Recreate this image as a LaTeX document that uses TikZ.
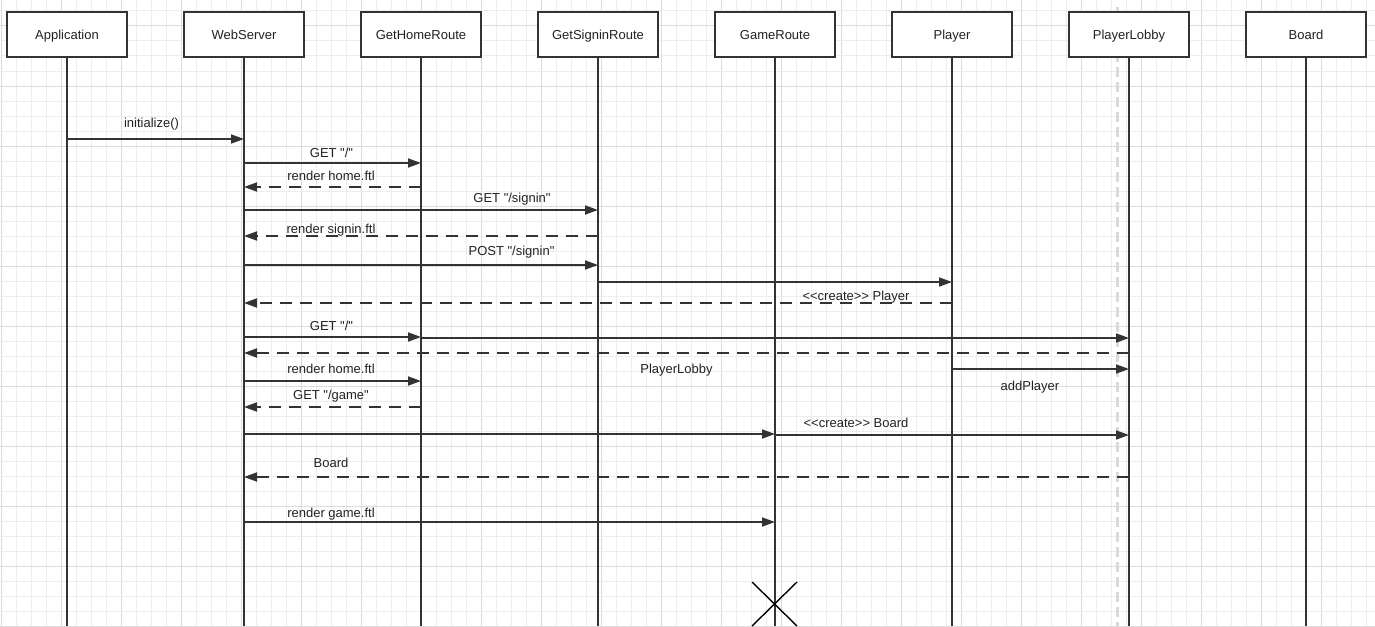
\documentclass[tikz,border=0pt]{standalone}
\usepackage{fontspec}
\setmainfont{Liberation Sans}[Ligatures=TeXOff]
\usetikzlibrary{arrows.meta}
\definecolor{ink}{HTML}{333333}
\definecolor{txt}{HTML}{222222}
\definecolor{gridminor}{HTML}{EDEDED}
\definecolor{gridmajor}{HTML}{DCDCDC}
\definecolor{guide}{HTML}{DADADA}
\tikzset{
 actor/.style={draw=ink, line width=2pt, fill=white, minimum width=120pt, minimum height=45pt, inner sep=0pt, text height=13.5pt, text depth=2.8pt, font=\fontsize{13}{15}\selectfont, text=txt},
 life/.style={draw=ink, line width=2pt},
 msg/.style={draw=ink, line width=1.8pt, -{Triangle[length=13pt,width=9pt]}},
 reply/.style={msg, dash pattern=on 12pt off 8pt},
 lbl/.style={font=\fontsize{13}{15}\selectfont, inner sep=0pt, text height=11.5pt, text depth=2.8pt, text=txt},
}
\begin{document}
\begin{tikzpicture}[x=1pt,y=-1pt]
\useasboundingbox (0,0) rectangle (1375,626);
% grid
\begin{scope}
\clip (0,0) rectangle (1375,626);
\fill[white] (0,0) rectangle (1375,626);
\foreach \i in {0,...,91}{
  \pgfmathtruncatemacro{\m}{mod(\i,4)}
  \ifnum\m=0 \draw[gridmajor, line width=1pt] (1.7+15*\i,0) -- (1.7+15*\i,626);
  \else \draw[gridminor, line width=1pt] (1.7+15*\i,0) -- (1.7+15*\i,626); \fi
}
\foreach \i in {0,...,41}{
  \pgfmathtruncatemacro{\m}{mod(\i,4)}
  \ifnum\m=1 \draw[gridmajor, line width=1pt] (0,11+15*\i) -- (1375,11+15*\i);
  \else \draw[gridminor, line width=1pt] (0,11+15*\i) -- (1375,11+15*\i); \fi
}
\end{scope}
% guide dashed line
\coordinate (gtop) at (1117,7);
\coordinate (gbot) at (1117,626);
\draw[guide, line width=3pt, dash pattern=on 10pt off 5pt] (gtop) -- (gbot);
% actors
\node[actor] (app) at (67,34.5) {Application};
\node[actor] (ws) at (244,34.5) {WebServer};
\node[actor] (hr) at (421,34.5) {GetHomeRoute};
\node[actor] (sr) at (598,34.5) {GetSigninRoute};
\node[actor] (gr) at (775,34.5) {GameRoute};
\node[actor] (pl) at (952,34.5) {Player};
\node[actor] (lob) at (1129,34.5) {PlayerLobby};
\node[actor] (bd) at (1306,34.5) {Board};
% lifelines
\foreach \n in {app,ws,hr,sr,gr,pl,lob,bd}{
  \draw[life] (\n.south) -- (\n.south |- 0,626);
}
% messages
\draw[msg] (app |- 0,139) -- (ws |- 0,139);
\node[lbl] (l1) at (151.5,123.5) {initialize()};
\draw[msg] (ws |- 0,163) -- (hr |- 0,163);
\node[lbl] (l2) at (331.5,153.5) {GET "/"};
\draw[reply] (hr |- 0,187) -- (ws |- 0,187);
\node[lbl] (l3) at (331,176.5) {render home.ftl};
\draw[msg] (ws |- 0,210) -- (sr |- 0,210);
\node[lbl] (l4) at (512,198.5) {GET "/signin"};
\draw[reply] (sr |- 0,236) -- (ws |- 0,236);
\node[lbl] (l5) at (331,229.5) {render signin.ftl};
\draw[msg] (ws |- 0,265) -- (sr |- 0,265);
\node[lbl] (l6) at (511.5,251.5) {POST "/signin"};
\draw[msg] (sr |- 0,282) -- (pl |- 0,282);
\draw[reply] (pl |- 0,303) -- (ws |- 0,303);
\node[lbl] (l7) at (856,296.5) {<<create>> Player};
\draw[msg] (ws |- 0,337) -- (hr |- 0,337);
\draw[msg] (hr |- 0,338) -- (lob |- 0,338);
\node[lbl] (l8) at (331.5,326.5) {GET "/"};
\draw[reply] (lob |- 0,353) -- (ws |- 0,353);
\node[lbl] (l9) at (676.5,369.5) {PlayerLobby};
\draw[msg] (ws |- 0,381) -- (hr |- 0,381);
\node[lbl] (l10) at (331,369.5) {render home.ftl};
\draw[msg] (pl |- 0,369) -- (lob |- 0,369);
\node[lbl] (l11) at (1030,386.5) {addPlayer};
\draw[reply] (hr |- 0,407) -- (ws |- 0,407);
\node[lbl] (l12) at (331,395.5) {GET "/game"};
\draw[msg] (ws |- 0,434) -- (gr |- 0,434);
\draw[msg] (gr |- 0,435) -- (lob |- 0,435);
\node[lbl] (l13) at (856,423.5) {<<create>> Board};
\draw[reply] (lob |- 0,477) -- (ws |- 0,477);
\node[lbl] (l14) at (331,463.5) {Board};
\draw[msg] (ws |- 0,522) -- (gr |- 0,522);
\node[lbl] (l15) at (331,513.5) {render game.ftl};
% destruction mark
\coordinate (x1) at (752,582);
\coordinate (x2) at (797,626);
\coordinate (x3) at (797,582);
\coordinate (x4) at (752,626);
\draw[black, line width=1.4pt] (x1) -- (x2) (x3) -- (x4);
\end{tikzpicture}
\end{document}
